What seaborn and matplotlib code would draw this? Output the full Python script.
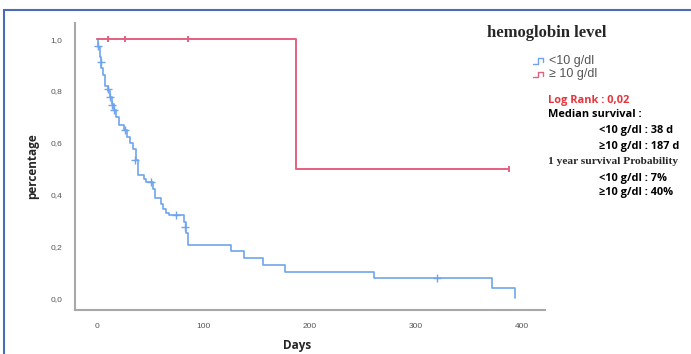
import numpy as np
import pandas as pd
import matplotlib
matplotlib.use("Agg")
import matplotlib.pyplot as plt
from matplotlib.lines import Line2D
from matplotlib.patches import Rectangle
import seaborn as sns

# ---- data ----
low_times = [0, 1, 3, 4, 6, 8, 10, 12, 14, 16, 18, 21, 25, 28, 31, 34, 37, 39,
             44, 46, 53, 55, 60, 62, 65, 68, 82, 84, 86, 126, 138, 156, 177,
             261, 372, 393]
low_surv = [1.0, 0.97, 0.93, 0.89, 0.86, 0.82, 0.80, 0.775, 0.75, 0.725, 0.70,
            0.67, 0.65, 0.62, 0.60, 0.575, 0.535, 0.475, 0.46, 0.45, 0.42,
            0.385, 0.365, 0.345, 0.33, 0.32, 0.295, 0.25, 0.205, 0.183,
            0.153, 0.127, 0.102, 0.077, 0.04, 0.0]
low_cens_t = [1, 4, 10, 12, 14, 16, 26, 36, 51, 74, 83, 320]
low_cens_s = [0.975, 0.91, 0.806, 0.777, 0.745, 0.726, 0.65, 0.535, 0.45, 0.32,
              0.275, 0.077]

high_times = [0, 187, 388]
high_surv = [1.0, 0.5, 0.5]
high_cens_t = [10, 26, 86, 388]
high_cens_s = [1.0, 1.0, 1.0, 0.5]

x_ticks = [0, 100, 200, 300, 400]
y_ticks = [0.0, 0.2, 0.4, 0.6, 0.8, 1.0]
y_tick_labels = ["0,0", "0,2", "0,4", "0,6", "0,8", "1,0"]

legend_labels = ["<10 g/dl", "\u2265 10 g/dl"]
title = "hemoglobin level"
stats_lines = [
    ("Log Rank : 0,02", "red", 0),
    ("Median survival :", "black", 0),
    ("<10 g/dl : 38 d", "black", 1),
    ("\u226510 g/dl : 187 d", "black", 1),
    ("1 year survival Probability", "serif", 0),
    ("<10 g/dl : 7%", "black", 1),
    ("\u226510 g/dl : 40%", "black", 1),
]

BLUE = "#6fa4ec"
RED = "#e55f80"

sns.set_style("white")
plt.rcParams["font.family"] = ["Liberation Sans", "DejaVu Sans"]

fig = plt.figure(figsize=(6.91, 3.54), dpi=100)
ax = fig.add_axes([75 / 691, 1 - 310 / 354, (545 - 75) / 691, (310 - 23) / 354])

low_df = pd.DataFrame({"t": low_times, "s": low_surv})
high_df = pd.DataFrame({"t": high_times, "s": high_surv})
sns.lineplot(data=low_df, x="t", y="s", drawstyle="steps-post", estimator=None,
             color=BLUE, lw=1.2, ax=ax)
sns.lineplot(data=high_df, x="t", y="s", drawstyle="steps-post", estimator=None,
             color=RED, lw=1.4, ax=ax)
sns.scatterplot(x=low_cens_t, y=low_cens_s, marker="+", s=30, color=BLUE,
                linewidth=1.0, ax=ax, zorder=3)
sns.scatterplot(x=high_cens_t, y=high_cens_s, marker="|", s=25, color=RED,
                linewidth=1.4, ax=ax, zorder=3)

ax.set_xlim(-20.7, 421.6)
ax.set_ylim(-0.046, 1.062)
ax.set_xticks(x_ticks)
ax.set_xticklabels([str(v) for v in x_ticks], fontsize=6, color="#555555")
ax.set_yticks(y_ticks)
ax.set_yticklabels(y_tick_labels, fontsize=6, color="#555555")
ax.tick_params(length=0, pad=9)
for side in ["top", "right"]:
    ax.spines[side].set_visible(False)
for side in ["left", "bottom"]:
    ax.spines[side].set_color("#a8a8a8")
    ax.spines[side].set_linewidth(1.5)
ax.set_xlabel("")
ax.set_ylabel("")

fig.text(297 / 691, 1 - 345 / 354, "Days", fontsize=8.5, fontweight="bold",
         family=["Open Sans", "DejaVu Sans"], ha="center", va="center")
fig.text(33 / 691, 1 - 166 / 354, "percentage", fontsize=8.5, fontweight="bold",
         family=["Open Sans", "DejaVu Sans"], ha="center", va="center", rotation=90)

# border frame
fig.add_artist(Rectangle((4 / 691, -0.05), 1.2, 1 - 10 / 354 + 0.05,
                         transform=fig.transFigure, fill=False,
                         edgecolor="#4a6cb8", lw=1.5))

fig.text(547 / 691, 1 - 33 / 354, title, fontsize=12, fontweight="bold",
         family=["Liberation Serif", "DejaVu Serif"], ha="center", va="center")

# legend (manual)
for i, (lab, col) in enumerate(zip(legend_labels, [BLUE, RED])):
    yc = 1 - (61 + 13.5 * i) / 354
    xs = np.array([533, 538, 538, 543]) / 691
    ys = np.array([yc - 0.008, yc - 0.008, yc + 0.008, yc + 0.008])
    fig.add_artist(Line2D(xs, ys, transform=fig.transFigure, color=col, lw=1.0))
    fig.add_artist(Line2D([543 / 691, 543 / 691], [yc + 0.008, yc - 0.004],
                          transform=fig.transFigure, color=col, lw=1.0))
    fig.text(549 / 691, yc, lab, fontsize=9, color="#555555",
             ha="left", va="center")

y_positions = [101, 115, 131, 146, 162, 178, 193]
for (txt, kind, indent), yp in zip(stats_lines, y_positions):
    xp = 599 if indent else 548
    if kind == "serif":
        fig.text(xp / 691, 1 - yp / 354, txt, fontsize=8.2, fontweight="bold",
                 family=["Liberation Serif", "DejaVu Serif"], ha="left", va="center")
    else:
        col = "#e8333a" if kind == "red" else "black"
        fig.text(xp / 691, 1 - yp / 354, txt, fontsize=7.9, fontweight="bold",
                 family=["Open Sans", "DejaVu Sans"], color=col, ha="left", va="center")

fig.savefig("out.png", dpi=100)
